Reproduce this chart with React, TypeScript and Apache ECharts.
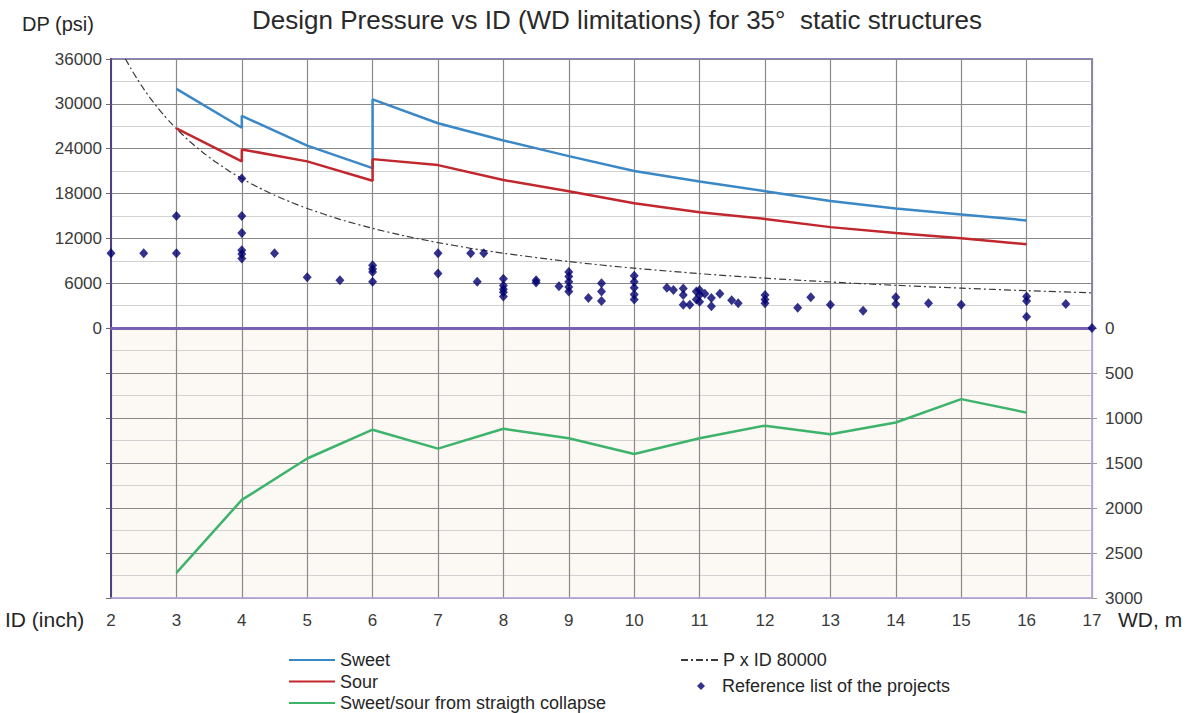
import React, { useEffect, useRef } from "react";
import * as echarts from "echarts";

// Design pressure limits (psi) by internal diameter (inch); repeated IDs mark the step changes.
const SWEET_ID = [3, 4, 4, 5, 6, 6, 7, 8, 9, 10, 11, 12, 13, 14, 15, 16];
const SWEET_DP = [32000, 26800, 28400, 24400, 21400, 30600, 27400, 25100, 23000, 21000, 19600, 18300, 17000, 16000, 15200, 14400];

const SOUR_ID = [3, 4, 4, 5, 6, 6, 7, 8, 9, 10, 11, 12, 13, 14, 15, 16];
const SOUR_DP = [26700, 22300, 23900, 22300, 19700, 22600, 21800, 19800, 18300, 16700, 15500, 14600, 13500, 12700, 12000, 11200];

// Water depth (m) limit from straight collapse
const COLLAPSE_ID = [3, 4, 5, 6, 7, 8, 9, 10, 11, 12, 13, 14, 15, 16];
const COLLAPSE_WD = [2720, 1910, 1450, 1130, 1340, 1120, 1225, 1400, 1225, 1085, 1180, 1050, 790, 940];

// P x ID = 80000 reference curve
const HYPERBOLA_ID = [2.22, 2.3, 2.4, 2.5, 2.6, 2.7, 2.8, 2.9, 3, 3.2, 3.4, 3.6, 3.8, 4, 4.25, 4.5, 4.75, 5, 5.5, 6, 6.5, 7, 7.5, 8, 9, 10, 11, 12, 13, 14, 15, 16, 17];
const HYPERBOLA_DP = [36036, 34783, 33333, 32000, 30769, 29630, 28571, 27586, 26667, 25000, 23529, 22222, 21053, 20000, 18824, 17778, 16842, 16000, 14545, 13333, 12308, 11429, 10667, 10000, 8889, 8000, 7273, 6667, 6154, 5714, 5333, 5000, 4706];

// Reference list of the projects
const REF_ID = [
  2, 2.5, 3, 3, 4, 4, 4, 4, 4, 4, 4.5, 5, 5.5, 6, 6, 6, 6,
  7, 7, 7.5, 7.7, 7.6, 8, 8, 8, 8, 8, 8.5, 8.5, 8.85,
  9, 9, 9, 9, 9, 9.3, 9.5, 9.5, 9.5, 10, 10, 10, 10, 10,
  10.5, 10.6, 10.75, 10.75, 10.75, 10.85, 10.95, 10.95, 11, 11, 11, 11.08,
  11.18, 11.18, 11.31, 11.49, 11.59, 12, 12, 12, 12.5, 12.7, 13, 13.5,
  14, 14, 14.5, 15, 16, 16, 16, 16.6, 17,
];
const REF_DP = [
  10000, 10000, 15000, 10000, 20000, 15000, 12700, 10400, 9900, 9300, 10000, 6800, 6400, 8400, 7900, 7500, 6200,
  10000, 7300, 10000, 10000, 6200, 6600, 5700, 5200, 4800, 4200, 6400, 6100, 5600,
  7500, 6900, 6200, 5500, 4900, 4000, 6000, 4900, 3600, 7000, 6200, 5400, 4500, 3800,
  5400, 5100, 5300, 4400, 3100, 3100, 4900, 3800, 5100, 4400, 3500, 4600,
  4000, 2900, 4600, 3700, 3300, 4400, 3800, 3300, 2700, 4100, 3100, 2300,
  4100, 3200, 3300, 3100, 4200, 3600, 1500, 3200, 0,
];

const zip = (xs: number[], ys: number[]) => xs.map((x, i) => [x, ys[i]]);
const plain = (v: number) => String(v);

const FONT = "'Liberation Sans', Arial, sans-serif";
const LABEL = "#3a3a3a";
const MAJOR = "#8a8a8a";
const MINOR = "#d2d2d2";
const LEGEND_TEXT = { fontFamily: FONT, fontSize: 18, color: "#262626", lineHeight: 18 };

export default function App() {
  const ref = useRef<HTMLDivElement>(null);

  useEffect(() => {
    if (!ref.current) return;
    const chart = echarts.init(ref.current, undefined, { renderer: "svg" });

    const xCommon = {
      type: "value" as const,
      min: 2,
      max: 17,
      interval: 1,
      splitLine: { show: true, lineStyle: { color: MAJOR, width: 1.2 } },
      axisTick: { show: false },
    };

    chart.setOption({
      animation: false,
      backgroundColor: "#ffffff",
      textStyle: { fontFamily: FONT },
      title: {
        text: "Design Pressure vs ID (WD limitations) for 35°  static structures",
        left: 612,
        top: 2,
        textAlign: "center",
        textStyle: { fontFamily: FONT, fontSize: 26, fontWeight: "normal", color: "#2a2a2a" },
      },
      grid: [
        { left: 111, right: 96, top: 59, height: 269, show: true, borderColor: "#9383c6", borderWidth: 2, backgroundColor: "#ffffff" },
        { left: 111, right: 96, top: 328, height: 270, show: true, borderColor: "#b9acdc", borderWidth: 1.5, backgroundColor: "#fcf8f3" },
      ],
      xAxis: [
        {
          ...xCommon,
          gridIndex: 0,
          axisLabel: { show: false },
          axisLine: { show: true, onZero: false, lineStyle: { color: "#7a61b2", width: 3 } },
        },
        {
          ...xCommon,
          gridIndex: 1,
          position: "bottom",
          axisLabel: { show: true, color: LABEL, fontSize: 17, margin: 14, fontFamily: FONT, formatter: plain },
          axisLine: { show: true, onZero: false, lineStyle: { color: "#b9acdc", width: 1.5 } },
        },
      ],
      yAxis: [
        {
          type: "value",
          gridIndex: 0,
          min: 0,
          max: 36000,
          interval: 6000,
          axisLine: { show: true, lineStyle: { color: "#4e3f86", width: 2 } },
          axisTick: { show: true, length: 5, lineStyle: { color: "#6a6a6a" } },
          axisLabel: { color: LABEL, fontSize: 17, margin: 9, fontFamily: FONT, formatter: plain },
          splitLine: { show: true, lineStyle: { color: MAJOR, width: 1.2 } },
          minorTick: { show: false, splitNumber: 2 },
          minorSplitLine: { show: true, lineStyle: { color: MINOR, width: 1 } },
        },
        {
          type: "value",
          gridIndex: 1,
          position: "right",
          inverse: true,
          min: 0,
          max: 3000,
          interval: 500,
          axisLine: { show: true, lineStyle: { color: "#b9acdc", width: 1.5 } },
          axisTick: { show: true, length: 5, lineStyle: { color: "#9a9a9a" } },
          axisLabel: { color: LABEL, fontSize: 17, margin: 13, fontFamily: FONT, formatter: plain },
          splitLine: { show: true, lineStyle: { color: MAJOR, width: 1.2 } },
          minorTick: { show: false, splitNumber: 2 },
          minorSplitLine: { show: true, lineStyle: { color: MINOR, width: 1 } },
        },
        {
          type: "value",
          gridIndex: 1,
          position: "left",
          inverse: true,
          min: 0,
          max: 3000,
          interval: 500,
          axisLine: { show: true, lineStyle: { color: "#4e3f86", width: 2 } },
          axisTick: { show: true, length: 5, lineStyle: { color: "#6a6a6a" } },
          axisLabel: { show: false },
          splitLine: { show: false },
        },
      ],
      legend: [
        {
          left: 288,
          top: 651,
          padding: 0,
          orient: "vertical",
          itemWidth: 46,
          itemHeight: 14,
          itemGap: 3.5,
          itemStyle: { opacity: 0 },
          textStyle: LEGEND_TEXT,
          data: ["Sweet", "Sour", "Sweet/sour from straigth collapse"],
        },
        {
          left: 680,
          top: 651,
          padding: 0,
          orient: "vertical",
          itemWidth: 37,
          itemHeight: 14,
          itemStyle: { opacity: 0 },
          textStyle: LEGEND_TEXT,
          data: ["P x ID 80000"],
        },
        {
          left: 697,
          top: 677,
          padding: 0,
          orient: "vertical",
          itemWidth: 8,
          itemHeight: 8,
          textStyle: { ...LEGEND_TEXT, padding: [0, 0, 0, 12] },
          data: [{ name: "Reference list of the projects", icon: "diamond" }],
        },
      ],
      graphic: [
        { type: "text", left: 22, top: 14, style: { text: "DP (psi)", font: `20px ${FONT}`, fill: "#262626" } },
        { type: "text", left: 5, top: 609, style: { text: "ID (inch)", font: `21px ${FONT}`, fill: "#262626" } },
        { type: "text", left: 1118, top: 609, style: { text: "WD, m", font: `21px ${FONT}`, fill: "#262626" } },
      ],
      series: [
        {
          name: "P x ID 80000",
          type: "line",
          xAxisIndex: 0,
          yAxisIndex: 0,
          data: zip(HYPERBOLA_ID, HYPERBOLA_DP),
          showSymbol: false,
          symbol: "none",
          smooth: 0.2,
          clip: true,
          lineStyle: { color: "#3a3a3a", width: 1.2, type: [7, 3, 2, 3] },
          itemStyle: { color: "#3a3a3a" },
          z: 3,
        },
        {
          name: "Sweet",
          type: "line",
          xAxisIndex: 0,
          yAxisIndex: 0,
          data: zip(SWEET_ID, SWEET_DP),
          showSymbol: false,
          symbol: "none",
          lineStyle: { color: "#3b88c6", width: 2.5 },
          itemStyle: { color: "#3b88c6" },
          z: 4,
        },
        {
          name: "Sour",
          type: "line",
          xAxisIndex: 0,
          yAxisIndex: 0,
          data: zip(SOUR_ID, SOUR_DP),
          showSymbol: false,
          symbol: "none",
          lineStyle: { color: "#c1272d", width: 2.5 },
          itemStyle: { color: "#c1272d" },
          z: 4,
        },
        {
          name: "Reference list of the projects",
          type: "scatter",
          xAxisIndex: 0,
          yAxisIndex: 0,
          data: zip(REF_ID, REF_DP),
          symbol: "diamond",
          symbolSize: [9, 10],
          clip: false,
          itemStyle: { color: "#00006e" },
          z: 6,
        },
        {
          name: "Sweet/sour from straigth collapse",
          type: "line",
          xAxisIndex: 1,
          yAxisIndex: 1,
          data: zip(COLLAPSE_ID, COLLAPSE_WD),
          showSymbol: false,
          symbol: "none",
          lineStyle: { color: "#3db36b", width: 2.5 },
          itemStyle: { color: "#3db36b" },
          z: 4,
        },
      ],
    });

    return () => chart.dispose();
  }, []);

  return <div ref={ref} style={{ position: "fixed", left: 0, top: 0, width: 1188, height: 713 }} />;
}
